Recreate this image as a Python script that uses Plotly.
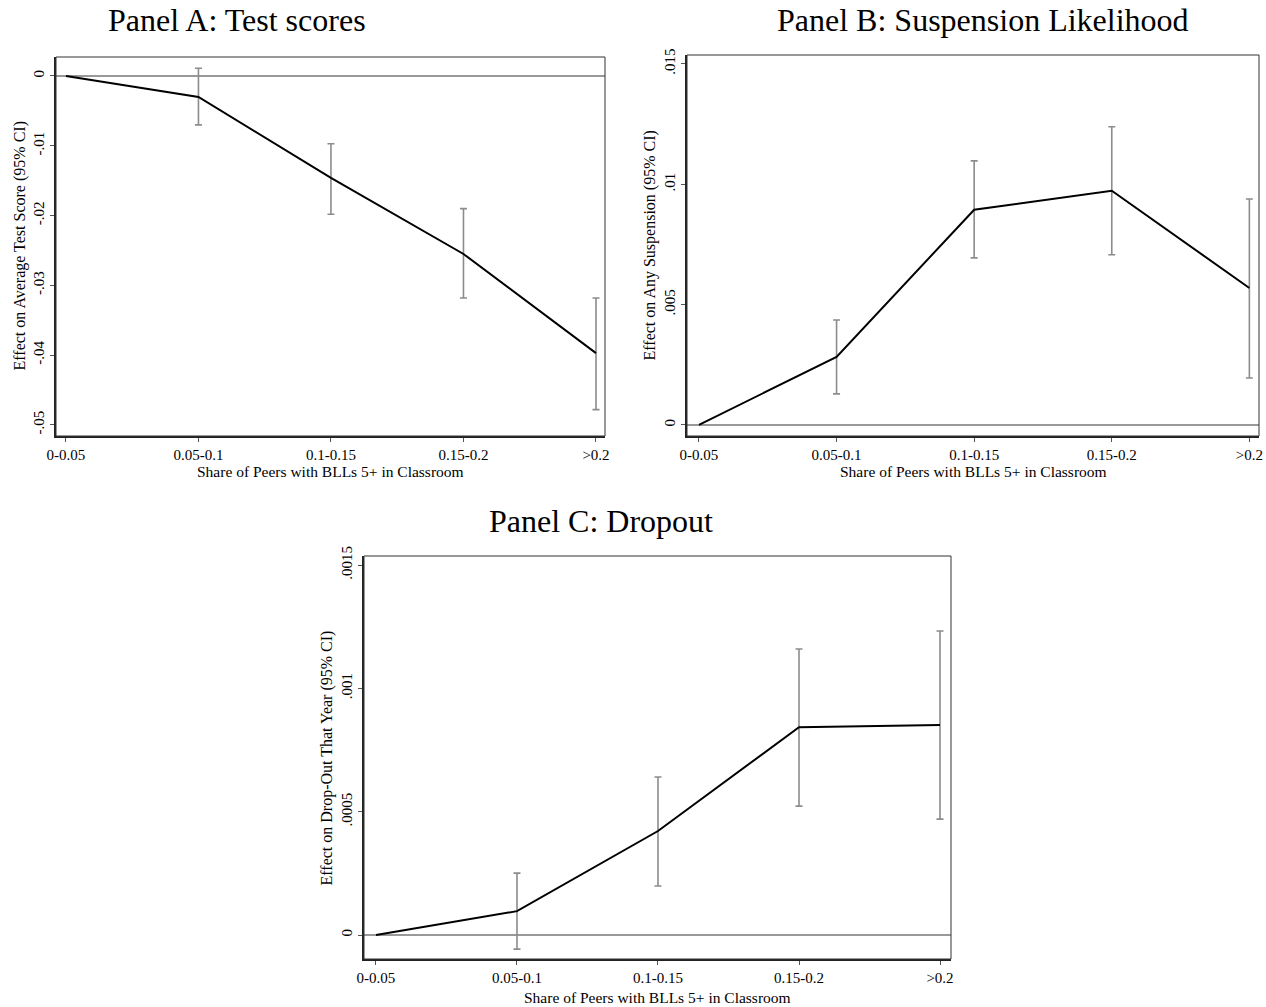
import plotly.graph_objects as go

categories = ["0-0.05", "0.05-0.1", "0.1-0.15", "0.15-0.2", ">0.2"]

# Panel A: Test scores
a_est = [0.0, -0.0030, -0.0146, -0.0255, -0.0397]
a_lo = [None, -0.0070, -0.0198, -0.0318, -0.0478]
a_hi = [None, 0.0011, -0.0097, -0.0190, -0.0318]

# Panel B: Suspension
b_est = [0.0, 0.00283, 0.00894, 0.00973, 0.00569]
b_lo = [None, 0.00129, 0.00694, 0.00707, 0.00195]
b_hi = [None, 0.00436, 0.01097, 0.01239, 0.00939]

# Panel C: Dropout
c_est = [0.0, 0.000097, 0.000422, 0.000843, 0.000852]
c_lo = [None, -0.000057, 0.000199, 0.000523, 0.000470]
c_hi = [None, 0.000251, 0.000641, 0.001160, 0.001233]

a_ticks = [0, -0.01, -0.02, -0.03, -0.04, -0.05]
a_ticklabels = ["0", "-.01", "-.02", "-.03", "-.04", "-.05"]
b_ticks = [0, 0.005, 0.01, 0.015]
b_ticklabels = ["0", ".005", ".01", ".015"]
c_ticks = [0, 0.0005, 0.001, 0.0015]
c_ticklabels = ["0", ".0005", ".001", ".0015"]

titles = ["Panel A: Test scores", "Panel B: Suspension Likelihood", "Panel C: Dropout"]
ytitles = ["Effect on Average Test Score (95% CI)",
           "Effect on Any Suspension (95% CI)",
           "Effect on Drop-Out That Year (95% CI)"]
xtitle = "Share of Peers with BLLs 5+ in Classroom"

W, H = 1266, 1007
FONT = "Liberation Serif, Times New Roman, serif"

panels = [
    dict(est=a_est, lo=a_lo, hi=a_hi, ticks=a_ticks, labels=a_ticklabels,
         box=(56, 605, 57, 436), yr=[-0.05158, 0.00272], xr=[-0.075, 4.068],
         title_xy=(237, 20), ytitle_x=20, xtitle_y=471),
    dict(est=b_est, lo=b_lo, hi=b_hi, ticks=b_ticks, labels=b_ticklabels,
         box=(687, 1259, 55, 436), yr=[-0.00046, 0.01537], xr=[-0.087, 4.07],
         title_xy=(983, 20), ytitle_x=650, xtitle_y=471),
    dict(est=c_est, lo=c_lo, hi=c_hi, ticks=c_ticks, labels=c_ticklabels,
         box=(364, 951, 556, 959), yr=[-0.000097, 0.001537], xr=[-0.085, 4.078],
         title_xy=(601, 521), ytitle_x=326, xtitle_y=997),
]

fig = go.Figure()
annotations = []
shapes = []
for i, p in enumerate(panels):
    n = "" if i == 0 else str(i + 1)
    xa, ya = "x" + n, "y" + n
    plus = [None if h is None else h - e for h, e in zip(p["hi"], p["est"])]
    minus = [None if l is None else e - l for l, e in zip(p["lo"], p["est"])]
    # error bars (first category is the reference: no CI)
    fig.add_trace(go.Scatter(
        x=categories[1:], y=p["est"][1:], mode="markers",
        marker=dict(size=0.1, color="rgba(0,0,0,0)"),
        error_y=dict(type="data", symmetric=False, array=plus[1:], arrayminus=minus[1:],
                     color="#8c8c8c", thickness=1.6, width=3.5),
        xaxis=xa, yaxis=ya, showlegend=False, hoverinfo="skip"))
    fig.add_trace(go.Scatter(
        x=categories, y=p["est"], mode="lines",
        line=dict(color="black", width=2),
        xaxis=xa, yaxis=ya, showlegend=False))
    x0, x1, y0, y1 = p["box"]
    dx = [x0 / W, x1 / W]
    dy = [1 - y1 / H, 1 - y0 / H]
    axis_common = dict(showgrid=False, showline=True, linecolor="#222222", linewidth=1.5,
                       ticks="outside", ticklen=4, tickcolor="#555555", tickwidth=1,
                       automargin=False,
                       tickfont=dict(family=FONT, size=15, color="black"))
    fig.layout["xaxis" + n] = dict(
        domain=dx, anchor=ya, type="category", categoryorder="array",
        categoryarray=categories, range=p["xr"], zeroline=False,
        **axis_common)
    fig.layout["yaxis" + n] = dict(
        domain=dy, anchor=xa, range=p["yr"], tickvals=p["ticks"], ticktext=p["labels"],
        tickangle=-90, zeroline=True, zerolinecolor="#999999", zerolinewidth=1.5,
        **axis_common)
    shapes.append(dict(type="rect", xref=xa + " domain", yref=ya + " domain",
                       x0=0, x1=1, y0=0, y1=1, line=dict(color="#333333", width=1)))
    tx, ty = p["title_xy"]
    annotations.append(dict(text=titles[i], x=tx / W, y=1 - ty / H, xref="paper", yref="paper",
                            xanchor="center", yanchor="middle", showarrow=False,
                            font=dict(family=FONT, size=32, color="black")))
    # y-axis title
    annotations.append(dict(text=ytitles[i], x=p["ytitle_x"] / W, y=sum(dy) / 2,
                            xref="paper", yref="paper", textangle=-90,
                            xanchor="center", yanchor="middle", showarrow=False,
                            font=dict(family=FONT, size=16, color="black")))
    # x-axis title
    annotations.append(dict(text=xtitle, x=sum(dx) / 2, y=1 - p["xtitle_y"] / H,
                            xref="paper", yref="paper",
                            xanchor="center", yanchor="middle", showarrow=False,
                            font=dict(family=FONT, size=15.5, color="black")))

fig.update_layout(width=W, height=H, margin=dict(l=0, r=0, t=0, b=0, autoexpand=False),
                  paper_bgcolor="white", plot_bgcolor="white",
                  annotations=annotations, shapes=shapes,
                  font=dict(family=FONT, color="black"))
fig.write_html("out.html", config={"displayModeBar": False},
               post_script="document.body.style.margin='0px';document.body.style.overflow='hidden';")
